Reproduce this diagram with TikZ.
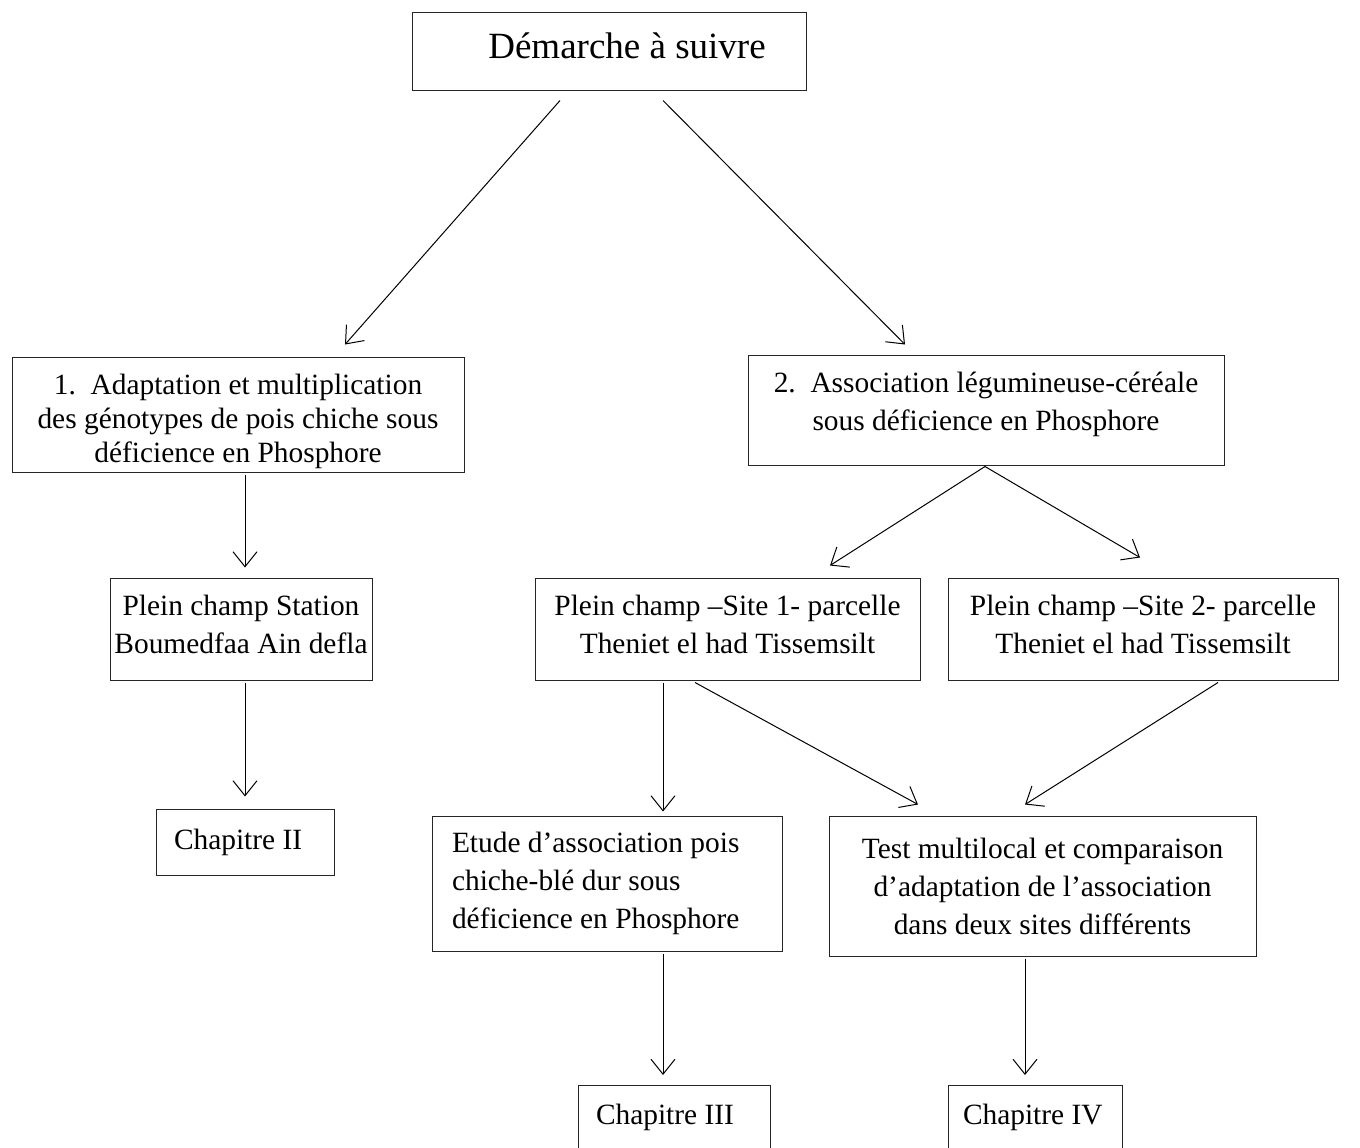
\documentclass[tikz,border=0pt]{standalone}
\usepackage{fontspec}
\setmainfont{Liberation Serif}
\usetikzlibrary{arrows.meta,calc}

\begin{document}
\begin{tikzpicture}[
    x=0.5pt, y=-0.5pt,
    box/.style={draw=black!85, line width=0.5pt, inner sep=0pt, align=center, font=\fontsize{14.7}{19}\selectfont},
    chap/.style={box, align=flush left, inner xsep=9pt},
    chapcut/.style={chap, anchor=north, inner ysep=9pt, text height=10.5pt, text depth=25pt},
    arr/.style={-{Straight Barb[length=7.5pt,width=12pt]}, line width=0.5pt},
]
    \useasboundingbox (0,0) rectangle (1360,1147);
    \clip (0,0) rectangle (1360,1147);

    % Title
    \node[box, minimum width=197pt, minimum height=39pt, font=\fontsize{18.5}{22}\selectfont] (demarche) at (609,51)
        {\hspace*{18pt}Démarche à suivre\rule[-5pt]{0pt}{0pt}};

    % Two approaches
    \node[box, minimum width=226pt, minimum height=57.5pt, font=\fontsize{14.7}{17}\selectfont] (adapt) at (238,414.5)
        {\rule{0pt}{17pt}1.\ \ Adaptation et multiplication\\des génotypes de pois chiche sous\\déficience en Phosphore};
    \node[box, minimum width=238pt, minimum height=55pt] (assoc) at (986,410)
        {2.\ \ Association légumineuse-céréale\\sous déficience en Phosphore\rule[-9pt]{0pt}{0pt}};

    % Field sites
    \node[box, minimum width=131pt, minimum height=51pt] (station) at (241,629) {Plein champ Station\\Boumedfaa Ain defla\rule[-5pt]{0pt}{0pt}};
    \node[box, minimum width=192.5pt, minimum height=51pt] (site1) at (727.5,629) {Plein champ –Site 1- parcelle\\Theniet el had Tissemsilt\rule[-5pt]{0pt}{0pt}};
    \node[box, minimum width=195pt, minimum height=51pt] (site2) at (1143,629) {Plein champ –Site 2- parcelle\\Theniet el had Tissemsilt\rule[-5pt]{0pt}{0pt}};

    % Studies
    \node[box, minimum width=175pt, minimum height=67.5pt, align=flush left, text width=155pt, inner xsep=10pt] (etude) at (607,883.5)
        {Etude d’association pois\\chiche-blé dur sous\\déficience en Phosphore};
    \node[box, minimum width=213.5pt, minimum height=70pt] (test) at (1042.5,886)
        {Test multilocal et comparaison\\d’adaptation de l’association\\dans deux sites différents};

    % Chapters
    \node[chap, minimum height=33pt, text width=71pt] (chapII) at (245,842) {Chapitre II};
    \node[chapcut, text width=78pt] (chapIII) at (674,1085) {Chapitre III};
    \node[chapcut, text width=72pt, inner xsep=7.5pt] (chapIV) at (1035,1085) {Chapitre IV};

    % Arrows
    \draw[arr] ($(demarche.south)+(-49,10)$) -- ($(adapt.north)+(107,-12)$);
    \draw[arr] ($(demarche.south)+(54,10)$) -- ($(assoc.north)+(-81,-10)$);
    \draw[arr] ($(adapt.south)+(7,2)$) -- ($(station.north)+(4,-10)$);
    \draw[arr] ($(station.south)+(4,2)$) -- ($(chapII.north)+(0,-12)$);
    \draw[arr] ($(assoc.south)+(-1,1)$) -- ($(site1.north)+(102.5,-12)$);
    \draw[arr] ($(assoc.south)+(-1,1)$) -- ($(site2.north)+(-3,-20)$);
    \draw[arr] ($(site1.south)+(-64.5,2)$) -- ($(etude.north)+(56,-4)$);
    \draw[arr] ($(site1.south)+(-32.5,2)$) -- ($(test.north)+(-124.5,-11)$);
    \draw[arr] ($(site2.south)+(75,2)$) -- ($(test.north)+(-17.5,-11)$);
    \draw[arr] ($(etude.south)+(56,2)$) -- ($(chapIII.north)+(-11,-10)$);
    \draw[arr] ($(test.south)+(-17.5,2)$) -- ($(chapIV.north)+(-10,-10)$);
\end{tikzpicture}
\end{document}
